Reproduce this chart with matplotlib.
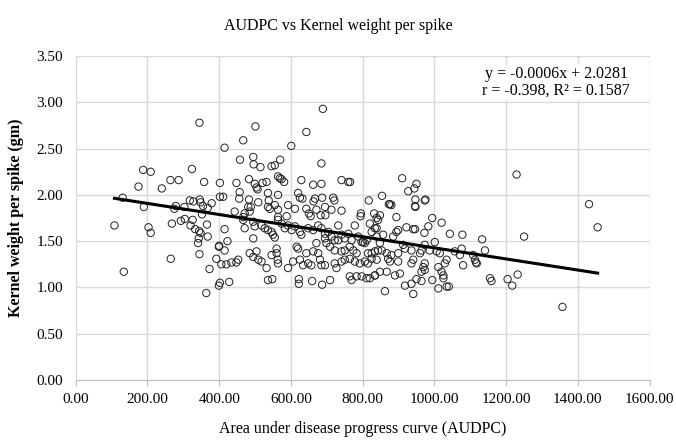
import matplotlib.pyplot as plt
import numpy as np

plt.rcParams['font.family'] = ['Liberation Serif', 'DejaVu Serif']

# AUDPC (x) and kernel weight per spike (y)
audpc_left = [345, 415, 188, 209, 324, 264, 287, 358, 402, 175, 240, 131, 190, 279, 275,
              303, 318, 328, 346, 348, 355, 379, 368, 402, 411, 352, 108, 203, 209, 268,
              293, 304, 326, 320, 333, 344, 348, 343, 341, 366, 368, 415, 423, 400,
              134, 265, 345, 373, 364, 399, 402, 428, 406, 420, 434, 448, 399, 392, 415]
kw_left = [2.78, 2.51, 2.27, 2.25, 2.28, 2.16, 2.16, 2.14, 2.13, 2.09, 2.07, 1.97, 1.87, 1.88, 1.85,
           1.87, 1.94, 1.93, 1.95, 1.92, 1.88, 1.91, 1.86, 1.98, 1.98, 1.79, 1.67, 1.65, 1.59, 1.69,
           1.72, 1.74, 1.73, 1.67, 1.63, 1.61, 1.59, 1.53, 1.48, 1.68, 1.55, 1.63, 1.50, 1.45,
           1.17, 1.31, 1.36, 1.20, 0.94, 1.02, 1.05, 1.06, 1.25, 1.25, 1.27, 1.27, 1.44, 1.31, 1.40]

audpc_top = [689, 501, 643, 467, 601, 458, 495, 496, 515, 546, 555, 570, 685, 448, 483,
             499, 504, 507, 521, 532, 564, 569, 574, 581, 629, 662, 685, 741, 760, 765,
             457, 456, 483, 481, 509, 536, 538, 564, 620, 625, 632, 667, 663, 687, 718,
             721, 817, 443, 471, 467, 488, 485, 536, 541, 555, 564, 592, 611, 643, 650,
             655, 671, 683, 695, 696, 713, 741, 795, 794, 832, 839, 564, 588,
             910, 950, 944, 927, 854, 947, 975, 1229, 873, 880, 947, 848, 894, 994, 876, 946, 973]
kw_top = [2.93, 2.74, 2.68, 2.59, 2.53, 2.38, 2.41, 2.33, 2.30, 2.31, 2.32, 2.38, 2.34, 2.13, 2.17,
          2.12, 2.08, 2.06, 2.13, 2.14, 2.20, 2.18, 2.17, 2.14, 2.16, 2.11, 2.12, 2.16, 2.14, 2.14,
          2.03, 1.96, 1.95, 1.87, 1.92, 2.02, 1.94, 2.00, 2.02, 1.97, 1.96, 1.96, 1.93, 1.97, 1.97,
          1.94, 1.94, 1.82, 1.80, 1.76, 1.87, 1.82, 1.87, 1.85, 1.89, 1.84, 1.89, 1.85, 1.85, 1.80,
          1.77, 1.84, 1.78, 1.87, 1.78, 1.84, 1.83, 1.80, 1.77, 1.80, 1.75, 1.76, 1.77,
          2.18, 2.12, 2.07, 2.04, 1.99, 1.95, 1.95, 2.22, 1.90, 1.89, 1.87, 1.78, 1.76, 1.75, 1.90, 1.88, 1.94]

audpc_mid = [467, 471, 495, 499, 518, 527, 536, 546, 550, 555, 564, 574, 583, 592, 602,
             611, 625, 629, 648, 662, 676, 685, 695, 704, 713, 722, 732, 741, 750, 760,
             769, 778, 788, 801, 811, 820, 825, 834, 843, 453, 485, 495, 504, 509, 518,
             532, 536, 548, 495, 546, 560, 560, 563, 564, 592, 606, 616, 620, 625, 634,
             643, 648, 657, 662, 671, 676, 681, 685, 695, 622, 622, 659, 687, 709, 695,
             699, 709, 722, 732, 741, 750, 764, 774, 783, 797, 806, 815, 825, 834, 843,
             722, 727, 741, 750, 764, 778, 792, 806, 815, 825, 839, 764, 769, 783, 797,
             811, 820, 834]
kw_mid = [1.73, 1.64, 1.71, 1.66, 1.67, 1.64, 1.62, 1.60, 1.57, 1.54, 1.73, 1.69, 1.64, 1.67, 1.62,
          1.66, 1.60, 1.57, 1.64, 1.62, 1.67, 1.64, 1.58, 1.60, 1.55, 1.51, 1.67, 1.57, 1.53, 1.58,
          1.51, 1.67, 1.55, 1.49, 1.51, 1.69, 1.60, 1.64, 1.73, 1.30, 1.37, 1.33, 1.39, 1.30, 1.28,
          1.21, 1.08, 1.09, 1.53, 1.35, 1.42, 1.37, 1.30, 1.26, 1.21, 1.28, 1.44, 1.42, 1.30, 1.24,
          1.37, 1.26, 1.24, 1.39, 1.48, 1.37, 1.30, 1.24, 1.24, 1.09, 1.04, 1.07, 1.03, 1.08, 1.53,
          1.48, 1.44, 1.40, 1.51, 1.39, 1.40, 1.44, 1.40, 1.37, 1.49, 1.48, 1.37, 1.37, 1.39, 1.40,
          1.26, 1.21, 1.28, 1.30, 1.31, 1.28, 1.26, 1.28, 1.26, 1.31, 1.30, 1.12, 1.08, 1.12, 1.12,
          1.10, 1.10, 1.13]

audpc_right = [983, 1020, 922, 941, 946, 894, 899, 885, 857, 972, 1043, 1078, 1133, 1141, 839,
               839, 848, 853, 867, 871, 876, 880, 899, 899, 913, 918, 936, 941, 936, 960,
               964, 973, 973, 969, 973, 964, 987, 1001, 1006, 1015, 1011, 1020, 1025, 1025, 1029,
               1034, 1034, 1057, 1071, 1076, 1080, 1108, 1113, 1118, 994, 1011, 1040, 918, 936, 950,
               964, 862, 941, 890, 904, 867, 848, 834, 1155, 1159, 1204, 1217, 1232, 1116,
               1357, 1431, 1455, 1250]
kw_right = [1.66, 1.70, 1.65, 1.63, 1.63, 1.60, 1.62, 1.55, 1.57, 1.59, 1.58, 1.57, 1.52, 1.40, 1.64,
            1.55, 1.48, 1.40, 1.37, 1.31, 1.28, 1.35, 1.37, 1.28, 1.46, 1.42, 1.40, 1.30, 1.26, 1.37,
            1.40, 1.46, 1.26, 1.22, 1.19, 1.17, 1.40, 1.49, 1.39, 1.37, 1.22, 1.17, 1.13, 1.10, 1.26,
            1.30, 1.01, 1.39, 1.35, 1.42, 1.24, 1.35, 1.30, 1.26, 1.08, 0.99, 1.01, 1.02, 1.04, 1.09,
            1.07, 0.96, 0.93, 1.13, 1.15, 1.17, 1.17, 1.13, 1.10, 1.07, 1.09, 1.02, 1.14, 1.27,
            0.79, 1.90, 1.65, 1.55]

# trendline from the chart
slope = -0.0006
intercept = 2.0281

x = np.array(audpc_left + audpc_top + audpc_mid + audpc_right)
y = np.array(kw_left + kw_top + kw_mid + kw_right)

fig = plt.figure(figsize=(6.76, 4.45), dpi=100)
ax = fig.add_axes([0.112, 0.146, 0.849, 0.728])

ax.scatter(x, y, s=28, facecolors='none', edgecolors='#222222', linewidths=0.7, zorder=3)
xl = np.array([x.min(), x.max()])
ax.plot(xl, slope * xl + intercept, color='black', lw=2.2, zorder=4)

ax.set_xlim(0, 1600)
ax.set_ylim(0, 3.5)
ax.set_xticks(np.arange(0, 1601, 200))
ax.set_yticks(np.arange(0, 3.51, 0.5))
ax.set_xticklabels(['%.2f' % v for v in np.arange(0, 1601, 200)])
ax.set_yticklabels(['%.2f' % v for v in np.arange(0, 3.51, 0.5)])
ax.grid(True, color='#d9d9d9', lw=1)
ax.set_axisbelow(True)
for s in ['top', 'right', 'left']:
    ax.spines[s].set_visible(False)
ax.spines['bottom'].set_color('#bfbfbf')
ax.tick_params(axis='x', length=4, color='#bfbfbf', labelsize=11, pad=5)
ax.tick_params(axis='y', length=0, labelsize=11, pad=9)

fig.text(0.5, 1 - 26 / 445, 'AUDPC vs Kernel weight per spike', ha='center', va='center', fontsize=11.5)
ax.set_xlabel('Area under disease progress curve (AUDPC)', fontsize=11.5)
ax.xaxis.set_label_coords(0.5, -0.128)
ax.set_ylabel('Kernel weight per spike (gm)', fontsize=11.5, fontweight='bold')
ax.yaxis.set_label_coords(-0.09, 0.5)

ax.text(1339, 3.215, 'y = -0.0006x + 2.0281\nr = -0.398, R² = 0.1587', ha='center', va='center',
        fontsize=11.5, linespacing=1.05,
        bbox=dict(facecolor='white', edgecolor='none', pad=1))

fig.savefig('out.png', dpi=100)
